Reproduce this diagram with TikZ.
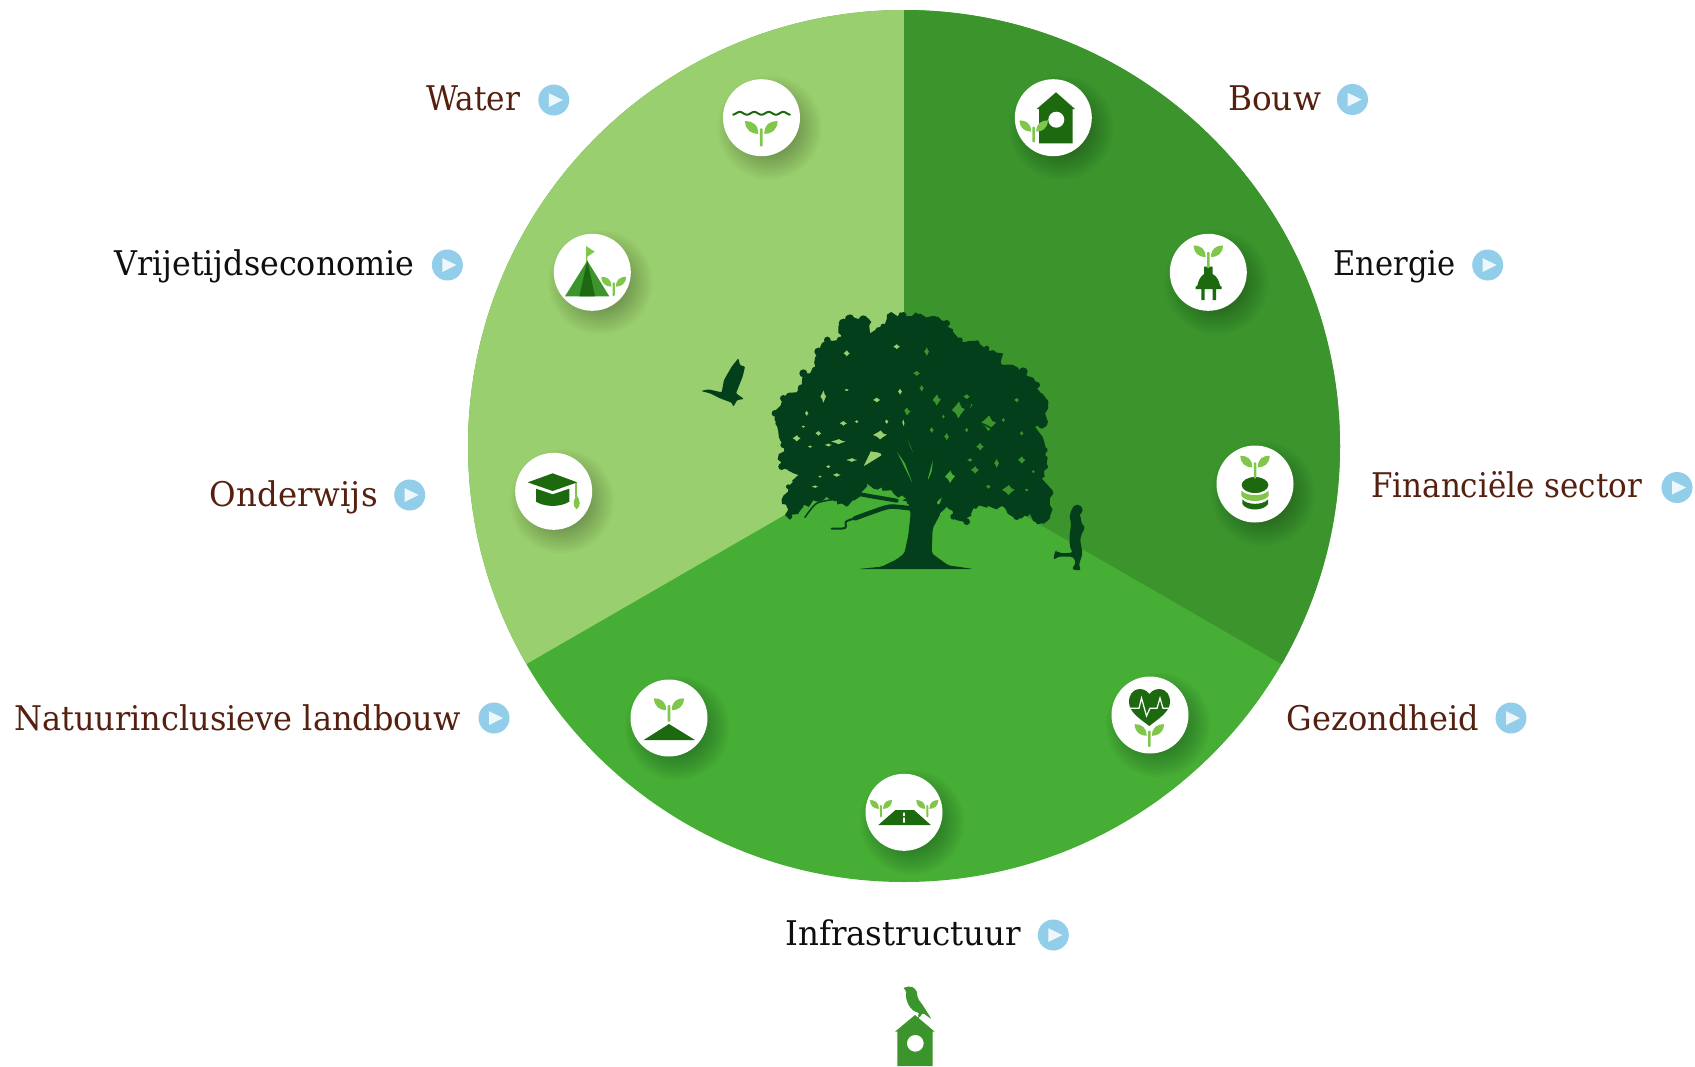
\documentclass[tikz,border=0pt]{standalone}
\usepackage{fontspec}
\setmainfont{DejaVu Serif}[FakeStretch=0.9]
\usetikzlibrary{decorations.pathmorphing}
\definecolor{cLight}{RGB}{153,207,110}
\definecolor{cDark}{RGB}{59,148,44}
\definecolor{cMid}{RGB}{70,173,53}
\definecolor{cTree}{RGB}{3,63,26}
\definecolor{cIcon}{RGB}{29,105,15}
\definecolor{cLeaf}{RGB}{127,198,75}
\definecolor{cBrown}{RGB}{85,32,15}
\definecolor{cInk}{RGB}{15,15,15}
\definecolor{cBlue}{RGB}{146,205,233}
\tikzset{
  lbl/.style={anchor=base west,inner sep=0pt,font=\fontsize{34}{40}\selectfont},
  lblb/.style={lbl,text=cBrown},
  lblk/.style={lbl,text=cInk},
  iconc/.style={circle,fill=white,inner sep=0pt,minimum size=77pt},
  playc/.style={circle,fill=cBlue,inner sep=0pt,minimum size=31pt},
  ic/.style={fill=cIcon},
  lf/.style={fill=cLeaf},
  tr/.style={fill=cTree},
  branch/.style={draw=cTree,line cap=round,line join=round},
}
\newcommand{\hs}[2]{\scalebox{#1}[1]{#2}}
\newcommand{\sprout}[3]{%
  \begin{scope}[shift={(#1,#2)},scale=#3]
    \fill[lf,rounded corners=.8pt] (-1.4,0) rectangle (1.4,18);
    \fill[lf] (-16.3,-7.3) .. controls (-9,-7.3) and (-3,-4) .. (-3,5.7) .. controls (-10,5.5) and (-16,2) .. cycle;
    \fill[lf] (16.3,-7.3) .. controls (9,-7.3) and (3,-4) .. (3,5.7) .. controls (10,5.5) and (16,2) .. cycle;
  \end{scope}}
\newcommand{\iconshadow}[2]{%
  \foreach \r in {52,50,48,46,44,42,40,38,36,34,32,30,28}{
    \fill[black,opacity=0.02] (#1+8,#2+10) circle (\r);}}
\newcommand{\playbtn}[3]{%
  \node[playc] (#1) at (#2,#3) {};
  \fill[white,opacity=.85] (#2-5,#3-6.8) -- (#2+9,#3) -- (#2-5,#3+7) -- cycle;}
\begin{document}
\begin{tikzpicture}[x=1pt,y=-1pt]
\useasboundingbox (0,0) rectangle (1695,1066);
% disc
\begin{scope}
  \clip (904,446) circle (436);
  \fill[cMid] (400,0) rectangle (1400,1000);
  \fill[cLight] (904,446) -- (904,0) -- (400,0) -- (400,737) -- cycle;
  \fill[cDark] (904,446) -- (904,0) -- (1408,0) -- (1408,737) -- cycle;
\end{scope}
% tree
\begin{scope}[shift={(740,290)},scale=0.33333]
  \pgfmathsetseed{7}
  \begin{scope}[even odd rule]
  \clip (-100,-100) rectangle (1200,1000)
    (370,530)--(435,490)--(392,484)--cycle
    (495,430)--(530,510)--(510,470)--cycle
    (468,480)--(522,590)--(495,520)--cycle
    (580,505)--(558,585)--(575,545)--cycle
    (612,605)--(578,655)--(600,640)--cycle
    \foreach \hx/\hy/\ha/\hb in {420/435/22/14,295/455/24/8,170/445/13/10,250/320/9/20,410/330/12/8,320/190/10/10,560/185/8/14,530/250/12/8,500/365/13/13,490/400/5/14,545/295/7/11,590/330/13/18,655/360/20/26,690/345/8/12,630/560/16/20,485/625/15/9,805/600/20/16,745/400/24/24,705/540/13/12,845/510/12/12,290/555/13/6,225/590/12/4,235/430/10/8,310/400/12/8,335/510/18/6,265/465/12/5,470/170/11/8,680/320/11/8,720/470/12/12,830/330/8/8,200/370/6/9,320/300/8/4,480/305/7/10,620/440/8/12,770/520/8/15,
    190/410/7/4,350/395/7/5,440/395/6/8,210/470/8/4,265/530/8/5,240/560/6/4,575/420/7/10,680/420/6/8,790/390/6/7,845/430/6/8,690/510/9/6,880/545/5/6,745/590/8/7,860/600/7/5,610/380/5/7}
    { (\hx-\ha,\hy) -- (\hx-.3*\ha,\hy-.6*\hb) -- (\hx+.1*\ha,\hy-\hb) -- (\hx+.5*\ha,\hy-.3*\hb) -- (\hx+\ha,\hy-.1*\hb) -- (\hx+.4*\ha,\hy+.5*\hb) -- (\hx,\hy+\hb) -- (\hx-.4*\ha,\hy+.4*\hb) -- cycle };
  \fill[tr,nonzero rule,decorate,decoration={random steps,segment length=4.5pt,amplitude=2.6pt}]
    (105,370)--(130,325)--(185,295)--(190,250)--(225,240)--(235,185)--(262,150)--(300,150)--(295,110)--(330,75)--(385,85)--(390,130)--(430,110)--(440,75)--(490,70)--(540,75)--(620,95)--(660,150)--(710,155)--(740,175)--(790,190)--(790,225)--(850,240)--(890,280)--(925,335)--(915,410)--(885,410)--(920,480)--(920,530)--(905,565)--(940,610)--(925,690)--(900,700)--(860,670)--(830,685)--(790,650)--(700,655)--(680,700)--(640,680)--(620,650)--(600,670)--(520,650)--(460,610)--(380,580)--(360,620)--(320,650)--(260,620)--(190,650)--(150,690)--(125,630)--(145,590)--(175,555)--(115,530)--(130,465)--(110,400)--cycle;
  \foreach \bx/\by/\br in {105/370/10,130/325/10,185/295/12,190/250/12,225/240/10,235/185/12,262/150/10,300/150/10,310/100/14,330/85/12,370/90/14,430/110/9,450/80/10,490/75/9,540/80/9,620/100/10,660/150/8,710/160/9,740/175/8,775/200/12,850/245/13,890/285/10,915/335/9,905/405/11,915/480/8,915/530/9,925/605/11,920/680/11,895/695/8,860/670/9,830/680/10,680/695/10,640/680/9,150/680/7,135/630/10,145/590/7,125/530/10,130/465/9,115/400/9}
    { \fill[tr] (\bx,\by) circle (\br); }
  \end{scope}
  % trunk
  \fill[tr,rounded corners=2pt] (355,837) -- (425,830) -- (470,808) -- (493,790) -- (505,735) -- (512,670) -- (505,640) -- (530,560) -- (560,560) -- (585,620) -- (602,670) -- (578,715) -- (575,790) -- (625,826) -- (700,837) -- cycle;
  % limbs
  \draw[branch,line width=8pt] plot[smooth] coordinates {(548,640) (540,560) (535,480) (510,420)};
  \draw[branch,line width=4pt] plot[smooth] coordinates {(510,420) (495,380) (470,330)};
  \draw[branch,line width=6pt] plot[smooth] coordinates {(570,640) (590,590) (615,500) (650,430)};
  \draw[branch,line width=3pt] plot[smooth] coordinates {(650,430) (680,370) (700,300)};
  \draw[branch,line width=3.5pt] plot[smooth] coordinates {(575,640) (640,590) (700,560)};
  \draw[branch,line width=5pt] plot[smooth] coordinates {(515,640) (470,560) (430,490)};
  \draw[branch,line width=3pt] plot[smooth] coordinates {(430,490) (350,450) (270,440)};
  \draw[branch,line width=1.5pt] plot[smooth] coordinates {(640,430) (720,400) (790,440)};
  \draw[branch,line width=1.5pt] plot[smooth] coordinates {(700,340) (780,330) (840,320)};
  \draw[branch,line width=1.5pt] plot[smooth] coordinates {(350,450) (260,480) (200,500)};
  \draw[branch,line width=2.5pt] plot[smooth] coordinates {(500,440) (460,340) (440,260)};
  \draw[branch,line width=1.5pt] plot[smooth] coordinates {(590,420) (560,300) (540,220)};
  \draw[branch,line width=1.5pt] plot[smooth] coordinates {(620,490) (680,480) (750,560)};
  \draw[branch,line width=4.5pt] plot[smooth] coordinates {(510,655) (450,650) (400,665) (345,685)};
  \draw[branch,line width=2pt] plot[smooth] coordinates {(345,685) (318,695) (315,714) (275,716)};
  \draw[branch,line width=4pt] plot[smooth] coordinates {(470,632) (400,620) (330,610) (285,628)};
  \draw[branch,line width=1.5pt] plot[smooth] coordinates {(285,628) (230,640) (195,682)};
\end{scope}
% runner
\begin{scope}[shift={(740,290)},scale=0.33333]
  \fill[tr] (1012,660) circle (16);
  \fill[tr,rounded corners=3pt] (998,650) -- (988,680) -- (994,700) -- (988,740) -- (990,775) -- (1000,788) -- (960,790) -- (950,782) -- (944,786) -- (940,812) -- (952,800) -- (1000,800) -- (1008,820) -- (994,838) -- (1024,842) -- (1016,826) -- (1028,790) -- (1020,750) -- (1026,728) -- (1037,712) -- (1026,705) -- (1020,672) -- cycle;
\end{scope}
% goose
\begin{scope}[shift={(500,220)},scale=0.33333]
  \fill[tr,rounded corners=1pt] (603,513) -- (625,508) -- (665,517) -- (672,480) -- (695,440) -- (715,415) -- (720,435) -- (735,440) -- (728,470) -- (708,520) -- (732,537) -- (712,540) -- (700,560) -- (695,548) -- (660,535) -- (630,520) -- cycle;
\end{scope}
% segment icons
\iconshadow{761.5}{117.7}\node[iconc] (iwater) at (761.5,117.7) {};
\iconshadow{1053.3}{117.7}\node[iconc] (ibouw) at (1053.3,117.7) {};
\iconshadow{592.3}{272.3}\node[iconc] (ivrij) at (592.3,272.3) {};
\iconshadow{1208.3}{272.3}\node[iconc] (ienergie) at (1208.3,272.3) {};
\iconshadow{553.7}{491.3}\node[iconc] (ionder) at (553.7,491.3) {};
\iconshadow{1255}{484}\node[iconc] (ifin) at (1255,484) {};
\iconshadow{669}{718}\node[iconc] (inat) at (669,718) {};
\iconshadow{1150}{715}\node[iconc] (igez) at (1150,715) {};
\iconshadow{904}{812.3}\node[iconc] (iinfra) at (904,812.3) {};
% water icon
\draw[cIcon,line width=2pt] plot[domain=0:58,samples=70] ({732.5+\x},{113.3+1.4*cos(\x*24.83)});
\sprout{761.3}{128.3}{1}
% bouw icon
\fill[ic] (1056,92.3) -- (1075,109) -- (1072.7,109) -- (1072.7,143.3) -- (1039,143.3) -- (1039,109) -- (1036.7,109) -- cycle;
\fill[white] (1056.3,119.7) circle (8);
\sprout{1033.7}{126.7}{.87}
% tent icon
\fill[cLeaf] (586,246) -- (594.7,251.7) -- (587.3,256.7) -- (587.3,262) -- (586,262) -- cycle;
\fill[cDark] (587.3,260.7) -- (609.3,296.3) -- (565,296.3) -- cycle;
\fill[ic] (587.3,260.7) -- (595,296.3) -- (579.3,296.3) -- cycle;
\sprout{613.7}{282.3}{.76}
% cap icon
\begin{scope}[shift={(500,220)},scale=0.33333]
  \fill[ic] (83,787) -- (158,760) -- (232,787) -- (158,813) -- cycle;
  \fill[ic] (108,806) -- (158,823) -- (208,806) -- (208,845) .. controls (180,862) and (136,862) .. (108,845) -- cycle;
  \fill[lf] (226,790) rectangle (232,830);
  \fill[lf] (230,825) .. controls (240,840) and (244,858) .. (230,868) .. controls (216,858) and (220,840) .. (230,825) -- cycle;
\end{scope}
% plug icon
\begin{scope}[shift={(1130,220)},scale=0.33333]
  \fill[ic] (222,140) -- (248,140) -- (248,162) .. controls (262,170) and (268,185) .. (270,197) -- (275,200) -- (275,207) -- (258,207) -- (258,240) -- (248,240) -- (248,207) -- (224,207) -- (224,240) -- (214,240) -- (214,207) -- (197,207) -- (197,200) -- (202,197) .. controls (204,185) and (210,170) .. (222,162) -- cycle;
\end{scope}
\sprout{1208.3}{252}{.9}
% coins icon
\begin{scope}[shift={(1130,220)},scale=0.33333]
  \fill[ic] (375,795) ellipse (40 and 24);
  \fill[lf] (334,812) .. controls (350,830) and (400,830) .. (416,812) -- (416,828) .. controls (400,848) and (350,848) .. (334,828) -- cycle;
  \fill[ic] (337,838) .. controls (350,856) and (400,856) .. (414,838) -- (414,852) .. controls (400,874) and (350,874) .. (337,852) -- cycle;
\end{scope}
\sprout{1255}{462.3}{.9}
% mound icon
\fill[ic] (669,724) -- (695,740) -- (643.7,740) -- cycle;
\sprout{669}{705}{.92}
% heart icon
\fill[ic] (1149.3,694) .. controls (1155,686) and (1170,687) .. (1170,702) .. controls (1170,712) and (1158,719) .. (1149.3,726) .. controls (1140,719) and (1129,712) .. (1129,702) .. controls (1129,687) and (1144,686) .. (1149.3,694) -- cycle;
\draw[white,line width=1.2pt,line join=miter] (1130,708.3) -- (1139,708.3) -- (1141.5,698) -- (1146.5,716) -- (1150,708.3) -- (1157,708.3) -- (1160,698) -- (1163,708.3) -- (1170,708.3);
\sprout{1149.3}{730.7}{.9}
% road icon
\fill[ic] (895.5,810) -- (914,810) -- (930.8,825) -- (878.3,825) -- cycle;
\fill[white] (903.2,812.7) rectangle (904.8,816) (903.2,817.5) rectangle (904.8,822.7);
\sprout{881}{805}{.68}
\sprout{927.3}{805}{.68}
% birdhouse and bird
\begin{scope}[shift={(760,900)},scale=0.33333]
  \fill[cDark] (465,345) -- (524,395) -- (518,395) -- (518,498) -- (412,498) -- (412,395) -- (405,395) -- cycle;
  \fill[white] (466,430) circle (25);
  \fill[cDark,rounded corners=2pt] (428,264) -- (452,258) -- (470,270) -- (473,295) -- (490,318) -- (515,358) -- (497,345) -- (488,338) -- (478,355) -- (472,352) -- (478,338) -- (462,335) -- (445,315) -- (437,290) -- (440,272) -- cycle;
\end{scope}
% labels
\node[lblb] (twater) at (426,110) {\hs{1.02}{Water}};
\playbtn{pwater}{553.8}{100}
\node[lblk] (tvrij) at (114,275) {\hs{1.037}{Vrijetijdseconomie}};
\playbtn{pvrij}{447.4}{265}
\node[lblb] (tonder) at (209.7,506) {\hs{1.06}{Onderwijs}};
\playbtn{ponder}{409.7}{495}
\node[lblb] (tnat) at (14,730) {\hs{1.045}{Natuurinclusieve landbouw}};
\playbtn{pnat}{494}{718}
\node[lblb] (tbouw) at (1228,110) {\hs{1.07}{Bouw}};
\playbtn{pbouw}{1352.5}{99.5}
\node[lblk] (tenergie) at (1333,275) {Energie};
\playbtn{penergie}{1487.7}{265}
\node[lblb] (tfin) at (1371,497) {\hs{1.012}{Financiële sector}};
\playbtn{pfin}{1677}{487.5}
\node[lblb] (tgez) at (1286.5,730) {\hs{1.047}{Gezondheid}};
\playbtn{pgez}{1511}{718}
\node[lblk] (tinfra) at (785,945.7) {\hs{1.063}{Infrastructuur}};
\playbtn{pinfra}{1053.3}{935}
\end{tikzpicture}
\end{document}
